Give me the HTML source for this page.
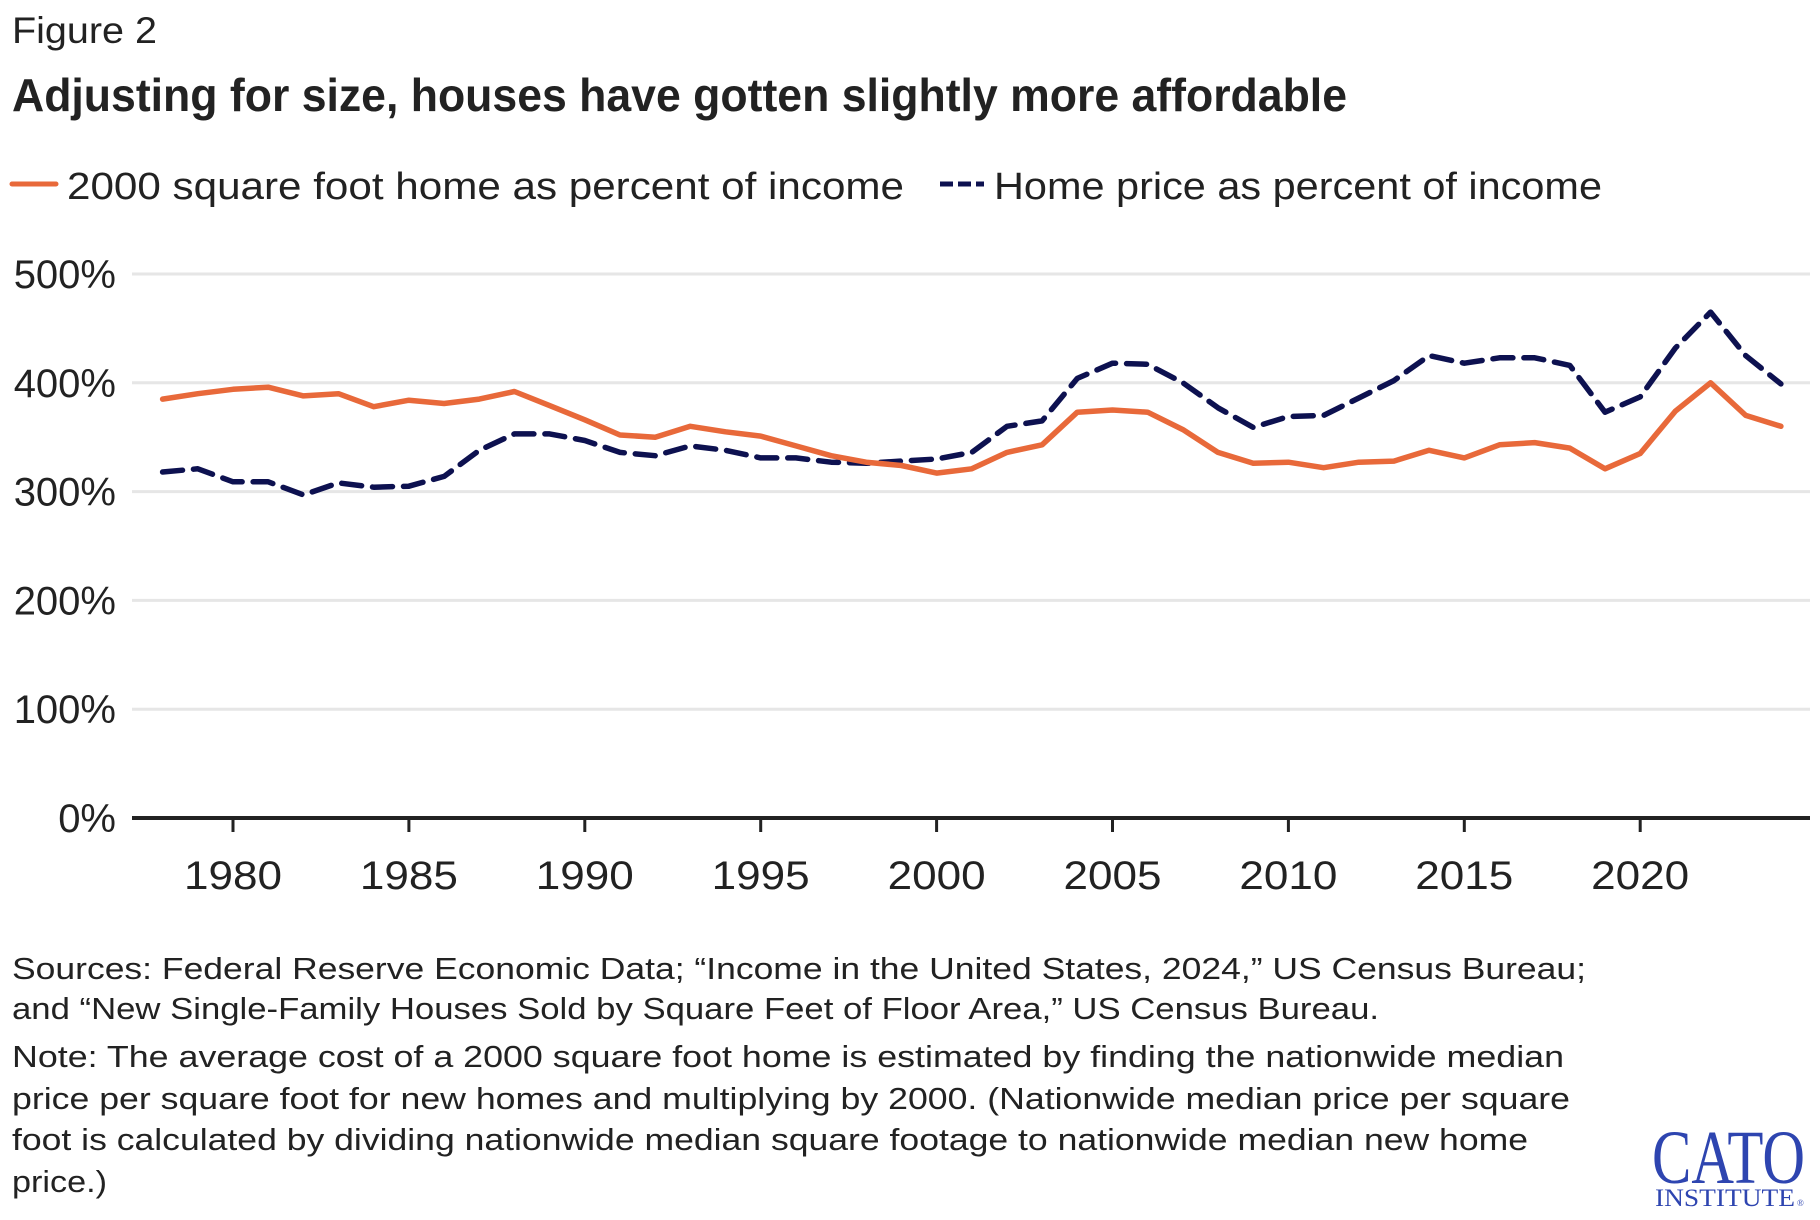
<!DOCTYPE html>
<html><head><meta charset="utf-8"><style>
html,body{margin:0;padding:0;background:#fff;}
svg{display:block;font-family:"Liberation Sans",Arial,sans-serif;}
</style></head><body>
<svg id="chart" width="1820" height="1220" viewBox="0 0 1820 1220" xmlns="http://www.w3.org/2000/svg">
<text x="12" y="43" font-size="37" fill="#222" textLength="145" lengthAdjust="spacingAndGlyphs">Figure 2</text>
<text x="12" y="111" font-size="46" font-weight="bold" fill="#222" textLength="1335" lengthAdjust="spacingAndGlyphs">Adjusting for size, houses have gotten slightly more affordable</text>
<g>
<line x1="12" y1="184" x2="56" y2="184" stroke="#e8693a" stroke-width="5" stroke-linecap="round"/>
<text x="67" y="199" font-size="38" fill="#222" textLength="837" lengthAdjust="spacingAndGlyphs">2000 square foot home as percent of income</text>
<line x1="940" y1="184" x2="984" y2="184" stroke="#0d1150" stroke-width="5" stroke-dasharray="13,5" stroke-linecap="butt"/>
<text x="994" y="199" font-size="38" fill="#222" textLength="608" lengthAdjust="spacingAndGlyphs">Home price as percent of income</text>
</g>
<g id="grid"></g>
<g id="yaxis"></g>
<g id="xaxis"></g>
<g id="series"></g>
<g font-size="31" fill="#222">
<text x="12" y="979" textLength="1574" lengthAdjust="spacingAndGlyphs">Sources: Federal Reserve Economic Data; “Income in the United States, 2024,” US Census Bureau;</text>
<text x="12" y="1019" textLength="1367" lengthAdjust="spacingAndGlyphs">and “New Single-Family Houses Sold by Square Feet of Floor Area,” US Census Bureau.</text>
<text x="12" y="1067" textLength="1552" lengthAdjust="spacingAndGlyphs">Note: The average cost of a 2000 square foot home is estimated by finding the nationwide median</text>
<text x="12" y="1109" textLength="1558" lengthAdjust="spacingAndGlyphs">price per square foot for new homes and multiplying by 2000. (Nationwide median price per square</text>
<text x="12" y="1150" textLength="1516" lengthAdjust="spacingAndGlyphs">foot is calculated by dividing nationwide median square footage to nationwide median new home</text>
<text x="12" y="1192" textLength="95" lengthAdjust="spacingAndGlyphs">price.)</text>
</g>
<g fill="#2e45b0" font-family="'Liberation Serif',serif">
<text x="1652" y="1183" font-size="76" textLength="153" lengthAdjust="spacingAndGlyphs">CATO</text>
<text x="1655" y="1206" font-size="25" textLength="140" lengthAdjust="spacingAndGlyphs">INSTITUTE</text>
<text x="1797" y="1206" font-size="9">®</text>
</g>
</svg>
<script>
const years = [1978,1979,1980,1981,1982,1983,1984,1985,1986,1987,1988,1989,1990,1991,1992,1993,1994,1995,1996,1997,1998,1999,2000,2001,2002,2003,2004,2005,2006,2007,2008,2009,2010,2011,2012,2013,2014,2015,2016,2017,2018,2019,2020,2021,2022,2023,2024];
const sqftPct = [385,390,394,396,388,390,378,384,381,385,392,379,366,352,350,360,355,351,342,333,327,324,317,321,336,343,373,375,373,357,336,326,327,322,327,328,338,331,343,345,340,321,335,374,400,370,360];
const pricePct = [318,321,309,309,297,308,304,305,314,338,353,353,347,336,333,342,338,331,331,327,326,328,330,336,360,365,404,418,417,400,377,359,369,370,386,402,425,418,423,423,416,373,387,432,465,425,399];
const yTicks = [0,100,200,300,400,500];
const yTickLabels = ["0%","100%","200%","300%","400%","500%"];
const xTicks = [1980,1985,1990,1995,2000,2005,2010,2015,2020];
const xTickLabels = ["1980","1985","1990","1995","2000","2005","2010","2015","2020"];

const NS = "http://www.w3.org/2000/svg";
const x = yr => 233 + (yr - 1980) * 35.18;
const y = v => 818 - v * 1.088;
function mk(tag, attrs, parent){const e=document.createElementNS(NS,tag);for(const k in attrs)e.setAttribute(k,attrs[k]);parent.appendChild(e);return e;}

const grid=document.getElementById('grid'), ya=document.getElementById('yaxis'), xa=document.getElementById('xaxis'), ser=document.getElementById('series');
yTicks.forEach((v,i)=>{
  if(v>0){
    const g=mk('line',{x1:132,x2:1810,y1:y(v),y2:y(v),stroke:'#e6e6e6','stroke-width':3},grid);
    
    
  }
  const t=mk('text',{x:116,y:y(v)+14,'font-size':40,fill:'#222','text-anchor':'end'},ya);
  t.textContent=yTickLabels[i];
  
  
});
const ax=mk('line',{x1:132,x2:1810,y1:818,y2:818,stroke:'#222','stroke-width':4},xa);


xTicks.forEach((yr,i)=>{
  const tk=mk('line',{x1:x(yr),x2:x(yr),y1:818,y2:832,stroke:'#222','stroke-width':3},xa);
  
  
  const t=mk('text',{x:x(yr),y:889,'font-size':40,fill:'#222','text-anchor':'middle',textLength:98,lengthAdjust:'spacingAndGlyphs'},xa);
  t.textContent=xTickLabels[i];
  
  
});
function pts(arr){return arr.map((v,i)=>x(years[i]).toFixed(1)+','+y(v).toFixed(1)).join(' ');}
const p1=mk('polyline',{points:pts(pricePct),fill:'none',stroke:'#0d1150','stroke-width':5.5,'stroke-dasharray':'20,11','stroke-linejoin':'round','stroke-linecap':'round'},ser);


const p2=mk('polyline',{points:pts(sqftPct),fill:'none',stroke:'#e8693a','stroke-width':5.5,'stroke-linejoin':'round','stroke-linecap':'round'},ser);


</script>
</body></html>
